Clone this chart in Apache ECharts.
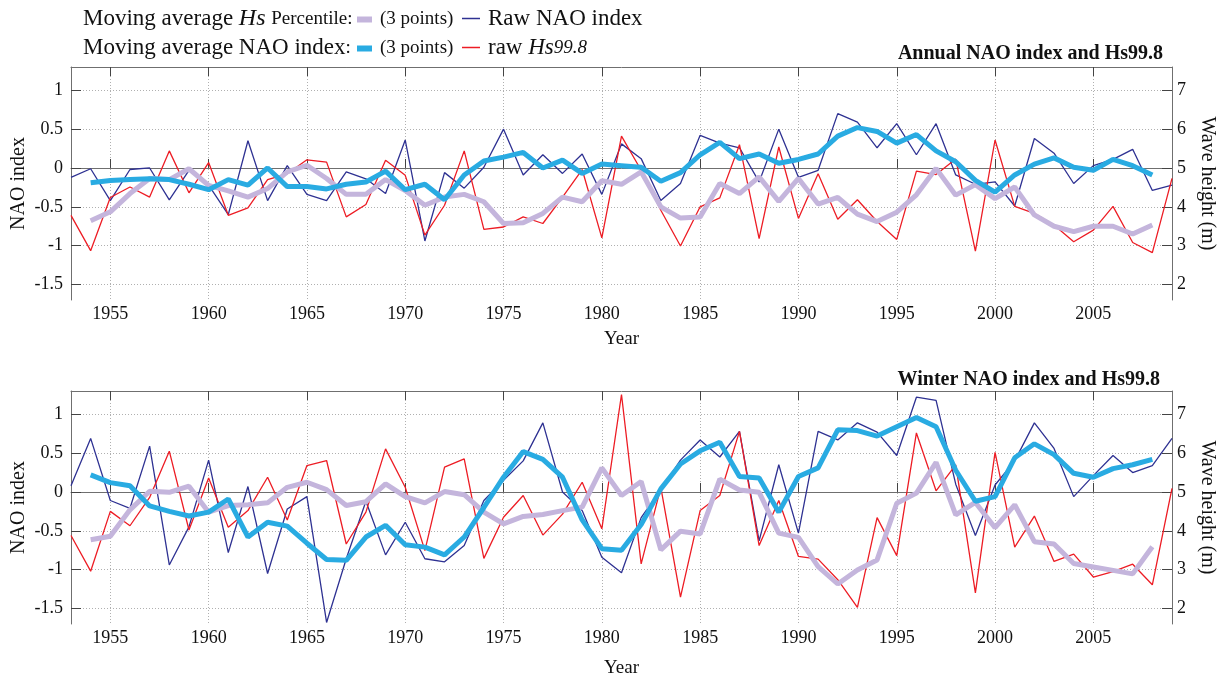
<!DOCTYPE html>
<html><head><meta charset="utf-8">
<script src="https://cdn.jsdelivr.net/npm/echarts@6/dist/echarts.min.js"></script>
<style>html,body{margin:0;padding:0;background:#fff}#c{width:1222px;height:677px}</style>
</head><body><div id="c"></div>
<script>
// ---------- data ----------
const years = [1953,1954,1955,1956,1957,1958,1959,1960,1961,1962,1963,1964,1965,1966,1967,1968,1969,1970,
  1971,1972,1973,1974,1975,1976,1977,1978,1979,1980,1981,1982,1983,1984,1985,1986,1987,1988,1989,1990,
  1991,1992,1993,1994,1995,1996,1997,1998,1999,2000,2001,2002,2003,2004,2005,2006,2007,2008,2009];

const naoTicks = [-1.5,-1,-0.5,0,0.5,1];
const hsTicks = [2,3,4,5,6,7];

// Annual
const annualRawNao = [-0.12,-0.01,-0.42,-0.02,0.00,-0.41,-0.03,-0.22,-0.60,0.35,-0.42,0.03,-0.34,-0.42,-0.05,-0.14,-0.33,0.36,
  -0.94,-0.06,-0.26,0.01,0.50,-0.09,0.17,-0.07,0.18,-0.34,0.31,0.12,-0.42,-0.20,0.42,0.32,0.26,-0.18,0.50,-0.12,
  -0.03,0.70,0.59,0.26,0.57,0.17,0.57,-0.09,-0.21,-0.18,-0.49,0.38,0.19,-0.20,0.03,0.11,0.24,-0.29,-0.22];
const annualRawHs = [3.78,2.87,4.24,4.51,4.25,5.44,4.36,5.14,3.78,3.97,4.70,4.85,5.21,5.15,3.74,4.06,5.20,4.81,
  3.27,4.04,5.44,3.42,3.48,3.74,3.57,4.25,4.96,3.20,5.82,4.94,3.91,2.99,4.00,4.23,5.60,3.18,5.54,3.70,
  4.85,3.68,4.18,3.62,3.16,4.92,4.83,5.23,2.86,5.72,4.01,3.83,3.53,3.10,3.40,4.01,3.08,2.82,4.73];
const annualMaNao = [null,-0.19,-0.16,-0.15,-0.14,-0.15,-0.21,-0.28,-0.15,-0.22,0.00,-0.24,-0.24,-0.27,-0.21,-0.18,-0.04,-0.28,
  -0.21,-0.41,-0.09,0.09,0.14,0.20,0.00,0.10,-0.07,0.05,0.03,0.01,-0.17,-0.06,0.17,0.33,0.12,0.18,0.06,0.11,
  0.18,0.41,0.52,0.47,0.32,0.43,0.22,0.08,-0.16,-0.31,-0.09,0.05,0.13,0.01,-0.03,0.11,0.03,-0.09,null];
const annualMaHs = [null,3.64,3.87,4.34,4.73,4.70,4.98,4.55,4.41,4.25,4.47,4.90,5.07,4.73,4.32,4.32,4.70,4.42,
  4.04,4.25,4.32,4.13,3.57,3.59,3.83,4.25,4.13,4.67,4.58,4.90,4.00,3.71,3.74,4.60,4.34,4.77,4.14,4.73,
  4.07,4.24,3.81,3.62,3.86,4.31,4.99,4.30,4.57,4.21,4.51,3.79,3.50,3.36,3.50,3.50,3.30,3.53,null];

// Winter
const winterRawNao = [0.08,0.69,-0.11,-0.21,0.59,-0.94,-0.45,0.41,-0.78,0.07,-1.05,-0.22,-0.06,-1.68,-0.86,-0.12,-0.81,-0.39,
  -0.86,-0.90,-0.69,-0.11,0.15,0.40,0.89,0.00,-0.24,-0.84,-1.04,-0.33,0.03,0.41,0.67,0.45,0.78,-0.63,0.35,-0.53,
  0.78,0.67,0.89,0.77,0.47,1.22,1.18,0.10,-0.56,0.09,0.40,0.89,0.56,-0.06,0.21,0.47,0.25,0.34,0.69];
const winterRawHs = [3.88,2.96,4.50,4.13,4.86,6.05,4.02,5.36,4.09,4.52,5.38,4.28,5.68,5.81,3.66,4.48,6.11,5.12,
  3.49,5.64,5.85,3.29,4.35,4.91,3.89,4.43,5.25,4.05,7.51,3.15,5.12,2.29,4.52,4.91,6.56,3.62,4.78,3.34,
  3.27,2.74,2.03,4.34,3.36,6.52,5.03,5.70,2.40,6.02,3.58,4.38,3.21,3.40,2.81,2.95,3.14,2.61,5.09];
const winterMaNao = [null,0.22,0.12,0.08,-0.18,-0.25,-0.31,-0.26,-0.09,-0.58,-0.39,-0.44,-0.66,-0.87,-0.88,-0.58,-0.43,-0.68,
  -0.71,-0.81,-0.58,-0.20,0.19,0.52,0.42,0.19,-0.36,-0.73,-0.75,-0.42,0.04,0.36,0.53,0.64,0.20,0.18,-0.26,0.20,
  0.31,0.80,0.79,0.72,0.84,0.96,0.84,0.28,-0.12,-0.06,0.44,0.62,0.48,0.24,0.19,0.30,0.35,0.42,null];
const winterMaHs = [null,3.77,3.86,4.54,5.02,4.99,5.15,4.48,4.65,4.67,4.72,5.12,5.25,5.06,4.65,4.75,5.21,4.88,
  4.72,5.01,4.93,4.48,4.18,4.37,4.42,4.52,4.61,5.62,4.91,5.27,3.51,3.99,3.92,5.33,5.05,4.99,3.94,3.83,
  3.08,2.63,2.99,3.25,4.71,4.97,5.76,4.41,4.73,4.08,4.67,3.72,3.66,3.16,3.07,2.98,2.89,3.59,null];

const panels = [
  {title:'Annual NAO index and Hs99.8', rawNao:annualRawNao, rawHs:annualRawHs, maNao:annualMaNao, maHs:annualMaHs},
  {title:'Winter NAO index and Hs99.8', rawNao:winterRawNao, rawHs:winterRawHs, maNao:winterMaNao, maHs:winterMaHs}
];

// ---------- styles ----------
const FONT = '"Liberation Serif","Times New Roman",serif';
const C = {navy:'#2E3192', red:'#ED1C24', sky:'#29ABE2', lav:'#C4B5DC', frame:'#6f6f6f', tick:'#444', grid:'#b0b0b0', text:'#111'};
const gridTops = [67, 391];
const gridH = 233;
const yearNameGap = [30, 35];
const everyFive = (i, v) => Number(v) % 5 === 0;

const grids = [], xAxes = [], yAxes = [], series = [], titles = [];
panels.forEach((p, i) => {
  grids.push({left:71, right:50, top:gridTops[i], height:gridH, containLabel:false, outerBoundsMode:'none'});
  xAxes.push({
    type:'category', gridIndex:i, data:years, boundaryGap:false, position:'bottom',
    axisLine:{show:true, lineStyle:{color:C.frame, width:1}},
    axisTick:{show:true, inside:true, length:9, interval:everyFive, lineStyle:{color:C.tick}},
    axisLabel:{interval:everyFive, fontFamily:FONT, fontSize:18, color:C.text, margin:5},
    splitLine:{show:true, interval:everyFive, lineStyle:{type:[1,2], color:C.grid, width:1}},
    name:'Year', nameLocation:'middle', nameGap:yearNameGap[i], nameMoveOverlap:false,
    nameTextStyle:{fontFamily:FONT, fontSize:19, color:C.text}
  });
  xAxes.push({
    type:'category', gridIndex:i, data:years, boundaryGap:false, position:'top',
    axisLine:{show:true, lineStyle:{color:C.frame, width:1}},
    axisTick:{show:true, inside:true, length:9, interval:everyFive, lineStyle:{color:C.tick}},
    axisLabel:{show:false}, splitLine:{show:false}
  });
  yAxes.push({
    type:'value', gridIndex:i, min:-1.7, max:1.3, position:'left',
    axisLine:{show:true, lineStyle:{color:C.frame, width:1}},
    axisTick:{show:true, inside:true, length:10, customValues:naoTicks, lineStyle:{color:C.tick}},
    axisLabel:{customValues:naoTicks, fontFamily:FONT, fontSize:18, color:C.text, margin:8},
    splitLine:{show:true, lineStyle:{type:[1,2], color:C.grid, width:1}},
    name:'NAO index', nameLocation:'middle', nameGap:42, nameMoveOverlap:false,
    nameTextStyle:{fontFamily:FONT, fontSize:20, color:C.text}
  });
  yAxes.push({
    type:'value', gridIndex:i, min:1.6, max:7.6, position:'right',
    axisLine:{show:true, lineStyle:{color:C.frame, width:1}},
    axisTick:{show:true, inside:true, length:10, customValues:hsTicks, lineStyle:{color:C.tick}},
    axisLabel:{customValues:hsTicks, fontFamily:FONT, fontSize:18, color:C.text, margin:5},
    splitLine:{show:false},
    name:'Wave height (m)', nameLocation:'middle', nameGap:25, nameRotate:-90, nameMoveOverlap:false,
    nameTextStyle:{fontFamily:FONT, fontSize:20, color:C.text}
  });
  const xi = 2*i, yl = 2*i, yr = 2*i+1;
  series.push({name:'Raw NAO', type:'line', xAxisIndex:xi, yAxisIndex:yl, data:p.rawNao, symbol:'none',
    lineStyle:{color:C.navy, width:1.3}, itemStyle:{color:C.navy}, z:2});
  series.push({name:'Raw Hs', type:'line', xAxisIndex:xi, yAxisIndex:yr, data:p.rawHs, symbol:'none',
    lineStyle:{color:C.red, width:1.3}, itemStyle:{color:C.red}, z:2});
  series.push({name:'MA Hs', type:'line', xAxisIndex:xi, yAxisIndex:yr, data:p.maHs, symbol:'none',
    lineStyle:{color:C.lav, width:5}, itemStyle:{color:C.lav}, z:3});
  series.push({name:'MA NAO', type:'line', xAxisIndex:xi, yAxisIndex:yl, data:p.maNao, symbol:'none',
    lineStyle:{color:C.sky, width:5}, itemStyle:{color:C.sky}, z:4});
  titles.push({text:p.title, right: i===0 ? 59 : 62, top: i===0 ? 44 : 370, padding:0,
    textStyle:{fontFamily:FONT, fontWeight:'bold', fontSize:20, color:C.text}});
});

const legendBase = {orient:'horizontal', padding:0, itemGap:0, icon:'rect', selectedMode:true};
const legends = [
  Object.assign({}, legendBase, {data:['MA Hs'], left:357, top:10, itemWidth:15, itemHeight:6,
    formatter:()=>'(3 points)', textStyle:{fontFamily:FONT, fontSize:19, color:C.text, padding:[0,0,0,3]}}),
  Object.assign({}, legendBase, {data:['Raw NAO'], left:462, top:7, itemWidth:18, itemHeight:1.5,
    formatter:()=>'Raw NAO index', textStyle:{fontFamily:FONT, fontSize:23, color:C.text, padding:[0,0,0,3]}}),
  Object.assign({}, legendBase, {data:['MA NAO'], left:357, top:39, itemWidth:15, itemHeight:6,
    formatter:()=>'(3 points)', textStyle:{fontFamily:FONT, fontSize:19, color:C.text, padding:[0,0,0,3]}}),
  Object.assign({}, legendBase, {data:['Raw Hs'], left:462, top:36, itemWidth:18, itemHeight:1.5,
    formatter:()=>'raw {i|Hs}{j|99.8}', textStyle:{fontFamily:FONT, fontSize:23, color:C.text, padding:[0,0,0,3],
      rich:{i:{fontFamily:FONT, fontSize:23, fontStyle:'italic', color:C.text}, j:{fontFamily:FONT, fontSize:19, fontStyle:'italic', color:C.text}}}})
];

const option = {
  backgroundColor:'#fff',
  animation:false,
  title:titles,
  legend:legends,
  grid:grids, xAxis:xAxes, yAxis:yAxes, series:series,
  graphic:[
    {type:'text', x:83, y:19, style:{text:'Moving average {i|Hs} {s|Percentile:}', fontFamily:FONT, fontSize:23, fill:C.text, verticalAlign:'middle',
      rich:{i:{fontFamily:FONT, fontSize:24, fontStyle:'italic', fill:C.text}, s:{fontFamily:FONT, fontSize:19, fill:C.text}}}},
    {type:'text', x:83, y:48, style:{text:'Moving average NAO index{s|:}', fontFamily:FONT, fontSize:23, fill:C.text, verticalAlign:'middle',
      rich:{s:{fontFamily:FONT, fontSize:19, fill:C.text}}}}
  ]
};
const chart = echarts.init(document.getElementById('c'));
chart.setOption(option);
</script>
</body></html>
